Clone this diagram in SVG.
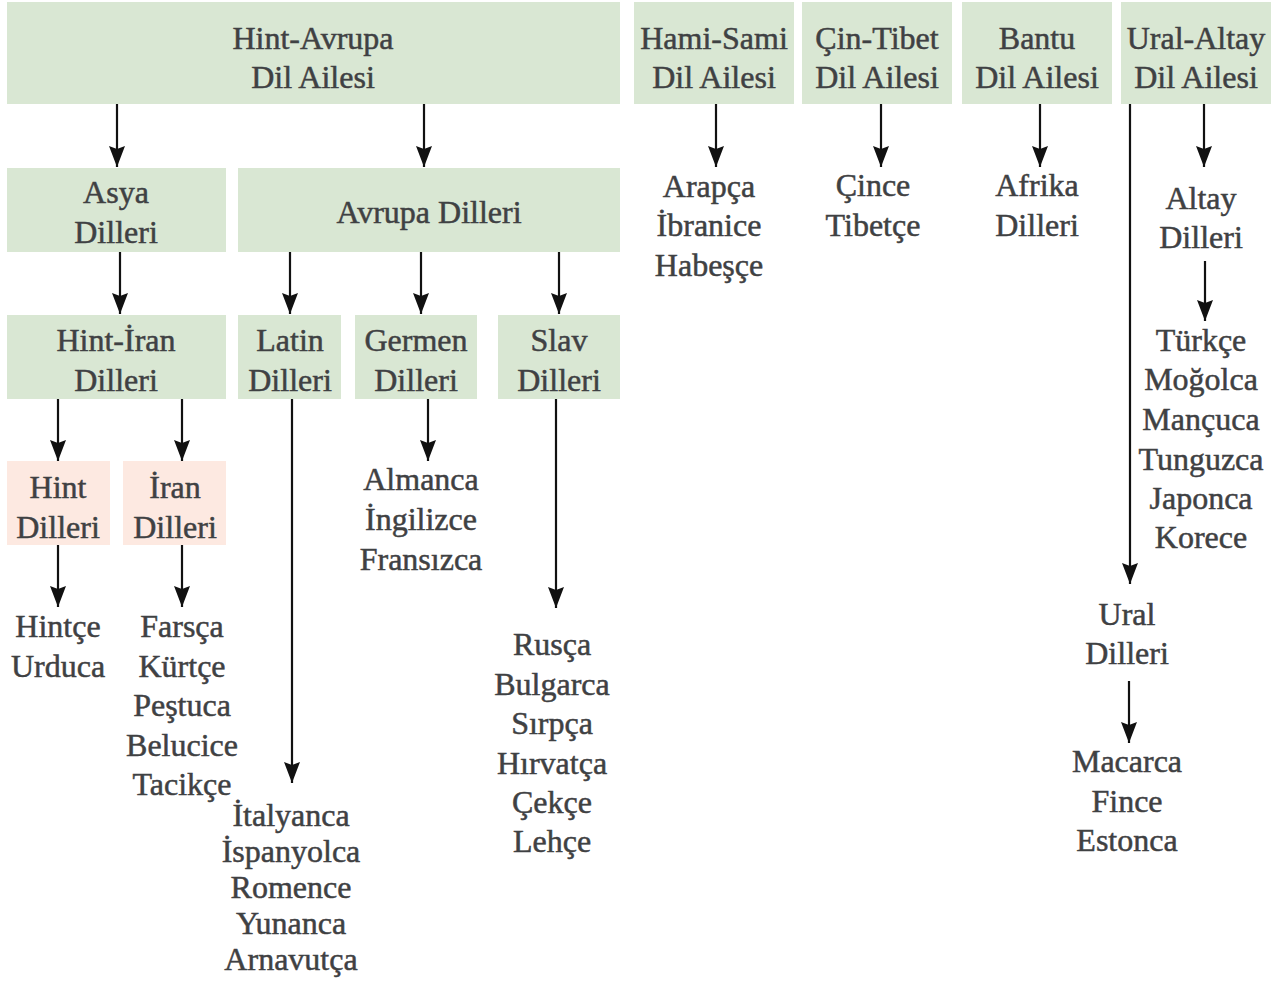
<svg xmlns="http://www.w3.org/2000/svg" width="1279" height="981" viewBox="0 0 1279 981">
  <style>
    .box { fill: #d9e7d3; }
    .pink { fill: #fde9e1; }
    text { font-family: "Liberation Serif", "Times New Roman", serif; font-size: 32px; fill: #3f4143; stroke: #3f4143; stroke-width: 0.5; text-anchor: middle; }
    .conn line { stroke: #111; stroke-width: 2.2; }
  </style>
  <defs>
    <marker id="arrow" viewBox="0 0 21 16" refX="21" refY="8" markerWidth="21" markerHeight="16" markerUnits="userSpaceOnUse" orient="auto">
      <path d="M0,0 L21,8 L0,16 L3,8 Z" fill="#111"/>
    </marker>
  </defs>
  <rect width="1279" height="981" fill="#ffffff"/>

  <!-- language families -->
  <g id="hint-avrupa"><rect class="box" x="7" y="2" width="613" height="102"/><text x="313" y="49">Hint-Avrupa</text><text x="313" y="88">Dil Ailesi</text></g>
  <g id="hami-sami"><rect class="box" x="634" y="2" width="160" height="102"/><text x="714" y="49">Hami-Sami</text><text x="714" y="88">Dil Ailesi</text></g>
  <g id="cin-tibet"><rect class="box" x="802" y="2" width="150" height="102"/><text x="877" y="49">Çin-Tibet</text><text x="877" y="88">Dil Ailesi</text></g>
  <g id="bantu"><rect class="box" x="962" y="2" width="150" height="102"/><text x="1037" y="49">Bantu</text><text x="1037" y="88">Dil Ailesi</text></g>
  <g id="ural-altay"><rect class="box" x="1121" y="2" width="150" height="102"/><text x="1196" y="49">Ural-Altay</text><text x="1196" y="88">Dil Ailesi</text></g>

  <!-- Indo-European branches -->
  <g id="asya"><rect class="box" x="7" y="168" width="219" height="84"/><text x="116" y="203">Asya</text><text x="116" y="243">Dilleri</text></g>
  <g id="avrupa"><rect class="box" x="238" y="168" width="382" height="84"/><text x="429" y="223">Avrupa Dilleri</text></g>
  <g id="hint-iran"><rect class="box" x="7" y="315" width="219" height="84"/><text x="116" y="351">Hint-İran</text><text x="116" y="391">Dilleri</text></g>
  <g id="latin"><rect class="box" x="238" y="315" width="103" height="84"/><text x="290" y="351">Latin</text><text x="290" y="391">Dilleri</text></g>
  <g id="germen"><rect class="box" x="355" y="315" width="122" height="84"/><text x="416" y="351">Germen</text><text x="416" y="391">Dilleri</text></g>
  <g id="slav"><rect class="box" x="498" y="315" width="122" height="84"/><text x="559" y="351">Slav</text><text x="559" y="391">Dilleri</text></g>
  <g id="hint"><rect class="pink" x="7" y="461" width="103" height="84"/><text x="58" y="498">Hint</text><text x="58" y="538">Dilleri</text></g>
  <g id="iran"><rect class="pink" x="123" y="461" width="103" height="84"/><text x="175" y="498">İran</text><text x="175" y="538">Dilleri</text></g>

  <!-- language lists -->
  <g id="hint-list"><text x="58" y="637">Hintçe</text><text x="58" y="677">Urduca</text></g>
  <g id="iran-list"><text x="182" y="637">Farsça</text><text x="182" y="677">Kürtçe</text><text x="182" y="716">Peştuca</text><text x="182" y="756">Belucice</text><text x="182" y="795">Tacikçe</text></g>
  <g id="latin-list"><text x="291" y="826">İtalyanca</text><text x="291" y="862">İspanyolca</text><text x="291" y="898">Romence</text><text x="291" y="934">Yunanca</text><text x="291" y="970">Arnavutça</text></g>
  <g id="germen-list"><text x="421" y="490">Almanca</text><text x="421" y="530">İngilizce</text><text x="421" y="570">Fransızca</text></g>
  <g id="slav-list"><text x="552" y="655">Rusça</text><text x="552" y="695">Bulgarca</text><text x="552" y="734">Sırpça</text><text x="552" y="774">Hırvatça</text><text x="552" y="813">Çekçe</text><text x="552" y="852">Lehçe</text></g>
  <g id="sami-list"><text x="709" y="197">Arapça</text><text x="709" y="236">İbranice</text><text x="709" y="276">Habeşçe</text></g>
  <g id="tibet-list"><text x="873" y="196">Çince</text><text x="873" y="236">Tibetçe</text></g>
  <g id="afrika"><text x="1037" y="196">Afrika</text><text x="1037" y="236">Dilleri</text></g>
  <g id="altay"><text x="1201" y="209">Altay</text><text x="1201" y="248">Dilleri</text></g>
  <g id="altay-list"><text x="1201" y="351">Türkçe</text><text x="1201" y="390">Moğolca</text><text x="1201" y="430">Mançuca</text><text x="1201" y="470">Tunguzca</text><text x="1201" y="509">Japonca</text><text x="1201" y="548">Korece</text></g>
  <g id="ural"><text x="1127" y="625">Ural</text><text x="1127" y="664">Dilleri</text></g>
  <g id="ural-list"><text x="1127" y="772">Macarca</text><text x="1127" y="812">Fince</text><text x="1127" y="851">Estonca</text></g>

  <!-- connectors -->
  <g class="conn">
    <line x1="117" y1="104" x2="117" y2="167" marker-end="url(#arrow)"/>
    <line x1="424" y1="104" x2="424" y2="167" marker-end="url(#arrow)"/>
    <line x1="716" y1="104" x2="716" y2="167" marker-end="url(#arrow)"/>
    <line x1="881" y1="104" x2="881" y2="167" marker-end="url(#arrow)"/>
    <line x1="1040" y1="104" x2="1040" y2="167" marker-end="url(#arrow)"/>
    <line x1="1204" y1="104" x2="1204" y2="167" marker-end="url(#arrow)"/>
    <line x1="1130" y1="104" x2="1130" y2="584" marker-end="url(#arrow)"/>
    <line x1="120" y1="252" x2="120" y2="314" marker-end="url(#arrow)"/>
    <line x1="290" y1="252" x2="290" y2="314" marker-end="url(#arrow)"/>
    <line x1="421" y1="252" x2="421" y2="314" marker-end="url(#arrow)"/>
    <line x1="559" y1="252" x2="559" y2="314" marker-end="url(#arrow)"/>
    <line x1="58" y1="399" x2="58" y2="461" marker-end="url(#arrow)"/>
    <line x1="182" y1="399" x2="182" y2="461" marker-end="url(#arrow)"/>
    <line x1="58" y1="545" x2="58" y2="607" marker-end="url(#arrow)"/>
    <line x1="182" y1="545" x2="182" y2="607" marker-end="url(#arrow)"/>
    <line x1="292" y1="399" x2="292" y2="783" marker-end="url(#arrow)"/>
    <line x1="428" y1="399" x2="428" y2="461" marker-end="url(#arrow)"/>
    <line x1="556" y1="399" x2="556" y2="608" marker-end="url(#arrow)"/>
    <line x1="1205" y1="261" x2="1205" y2="321" marker-end="url(#arrow)"/>
    <line x1="1129" y1="681" x2="1129" y2="743" marker-end="url(#arrow)"/>
  </g>
</svg>
